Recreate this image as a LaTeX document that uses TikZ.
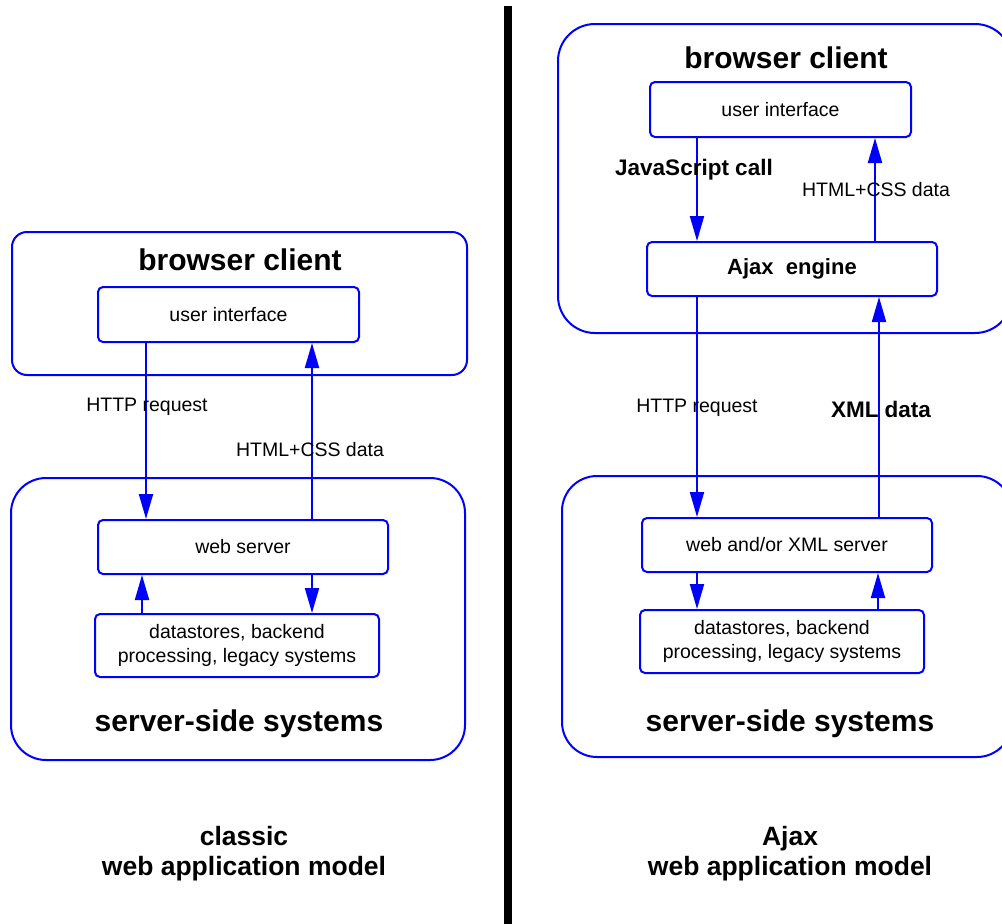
\documentclass[tikz,border=0pt]{standalone}
\usepackage{fontspec}
\setmainfont{Liberation Sans}
\usetikzlibrary{arrows.meta}
\definecolor{lineblue}{RGB}{0,0,255}
\tikzset{
  outerbox/.style={draw=lineblue,line width=2pt,rounded corners=#1,inner sep=0pt},
  innerbox/.style={draw=lineblue,line width=2pt,rounded corners=5pt,inner sep=0pt,align=center,font=\fontsize{19.5}{23.5}\selectfont},
  arr/.style={draw=lineblue,line width=2pt,-{Triangle[length=25pt,width=14pt]}},
  bigtitle/.style={font=\fontsize{30}{34}\selectfont\bfseries,inner sep=0pt},
  caption/.style={font=\fontsize{26.5}{30}\selectfont\bfseries,inner sep=0pt,align=center},
  lbl/.style={font=\fontsize{19.5}{22}\selectfont,inner sep=0pt},
  blbl/.style={font=\fontsize{22.5}{25}\selectfont\bfseries,inner sep=0pt}
}
\begin{document}
\begin{tikzpicture}[x=1pt,y=-1pt]
\useasboundingbox (0,0) rectangle (1002,924);
% divider
\fill[black] (504,6) rectangle (512,924);

% ---------- classic model ----------
\node[outerbox=15pt,minimum width=455pt,minimum height=143pt] (bc1) at (239.5,303.5) {};
\node[bigtitle] (bc1t) at (240,260) {browser client};
\node[innerbox,minimum width=261pt,minimum height=55pt] (ui1) at (228.5,314.5) {user interface};
\node[outerbox=35pt,minimum width=454pt,minimum height=282pt] (ss1) at (238,619) {};
\node[bigtitle] (ss1t) at (239,724) {server-side systems};
\node[innerbox,minimum width=290pt,minimum height=54pt] (ws1) at (243,547) {web server};
\node[innerbox,minimum width=284pt,minimum height=63pt] (ds1) at (237,645.5) {datastores, backend\\processing, legacy systems};

\draw[arr] (ui1.south -| 146,0) -- (ws1.north -| 146,0);
\draw[arr] (ws1.north -| 312,0) -- (ui1.south -| 312,0);
\draw[arr] (ds1.north -| 142,0) -- (ws1.south -| 142,0);
\draw[arr] (ws1.south -| 312,0) -- (ds1.north -| 312,0);

\node[lbl] (l1) at (147,407) {HTTP request};
\node[lbl] (l2) at (310,450) {HTML+CSS data};
\node[caption] (cap1) at (244,854) {classic\\web application model};

% ---------- Ajax model ----------
\node[outerbox=37pt,minimum width=454pt,minimum height=309pt] (bc2) at (785,178.5) {};
\node[bigtitle] (bc2t) at (786,58) {browser client};
\node[innerbox,minimum width=261pt,minimum height=55pt] (ui2) at (780.5,109.5) {user interface};
\node[innerbox,minimum width=290pt,minimum height=54pt,font=\fontsize{22}{25}\selectfont\bfseries] (ae) at (792,269) {Ajax\ \ engine};
\node[outerbox=35pt,minimum width=450pt,minimum height=281pt] (ss2) at (787,616.5) {};
\node[bigtitle] (ss2t) at (790,724) {server-side systems};
\node[innerbox,minimum width=290pt,minimum height=54pt] (ws2) at (787,545) {web and/or XML server};
\node[innerbox,minimum width=284pt,minimum height=63pt] (ds2) at (782,641.5) {datastores, backend\\processing, legacy systems};

\draw[arr] (ui2.south -| 697,0) -- (ae.north -| 697,0);
\draw[arr] (ae.north -| 875,0) -- (ui2.south -| 875,0);
\draw[arr] (ae.south -| 697,0) -- (ws2.north -| 697,0);
\draw[arr] (ws2.north -| 879,0) -- (ae.south -| 879,0);
\draw[arr] (ws2.south -| 697,0) -- (ds2.north -| 697,0);
\draw[arr] (ds2.north -| 878,0) -- (ws2.south -| 878,0);

\node[blbl] (l3) at (694,170) {JavaScript call};
\node[lbl] (l4) at (876,190) {HTML+CSS data};
\node[lbl] (l5) at (697,408) {HTTP request};
\node[blbl] (l6) at (881,409) {XML data};
\node[caption] (cap2) at (790,854) {Ajax\\web application model};
\end{tikzpicture}
\end{document}
